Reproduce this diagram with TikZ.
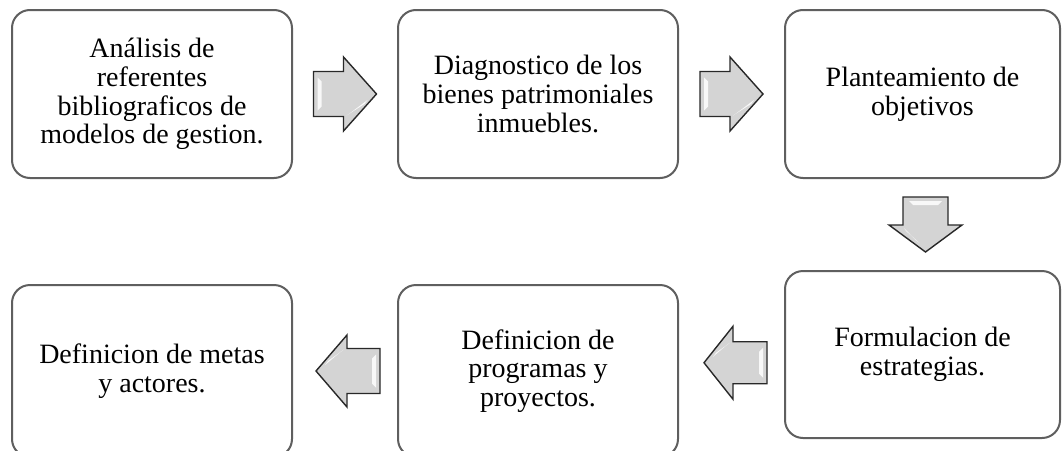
\documentclass[tikz,border=0pt]{standalone}
\usepackage{fontspec}
\setmainfont{Liberation Serif}
\usetikzlibrary{calc}
\definecolor{boxline}{RGB}{95,95,95}
\definecolor{arrfill}{RGB}{212,212,212}
\definecolor{arrline}{RGB}{40,40,40}
\tikzset{
  stepbox/.style={draw=boxline, line width=2pt, rounded corners=18pt, fill=white,
    align=center, inner sep=0pt, font=\fontsize{28}{28.7}\selectfont},
  blockarr/.style={draw=arrline, fill=arrfill, line width=1.4pt, line join=miter},
  glint/.style={fill=white, draw=none, opacity=0.85}
}
% #1 centre, #2 rotation, #3 total length, #4 head length, #5 head half width, #6 shaft half width
\newcommand\blockarrow[6]{%
  \begin{scope}[shift={(#1)}, rotate=#2]
    \path[blockarr] (-#3/2,-#6) -- (#3/2-#4,-#6) -- (#3/2-#4,-#5) -- (#3/2,0)
      -- (#3/2-#4,#5) -- (#3/2-#4,#6) -- (-#3/2,#6) -- cycle;
    \path[glint] (-#3/2+4,-#6+6) -- (-#3/2+8,-#6+10) -- (-#3/2+8,#6-10) -- (-#3/2+4,#6-6) -- cycle;
    \path[glint] (#3/2-#4+6,#6-3) -- (#3/2-9,6) -- (#3/2-12,10) -- (#3/2-#4+3,#6-1) -- cycle;
  \end{scope}}
\begin{document}
\begin{tikzpicture}[x=1pt,y=-1pt]
  \useasboundingbox (0,0) rectangle (1062,450);
  \clip (0,0) rectangle (1062,450);
  % top row
  \node[stepbox, minimum width=280pt, minimum height=168pt] (b1) at (152,94)
    {Análisis de\\referentes\\bibliograficos de\\modelos de gestion.};
  \node[stepbox, minimum width=280pt, minimum height=168pt] (b2) at (538,94)
    {Diagnostico de los\\bienes patrimoniales\\inmuebles.};
  \node[stepbox, minimum width=275pt, minimum height=168pt] (b3) at (922.5,94)
    {Planteamiento de\\objetivos};
  % bottom row
  \node[stepbox, minimum width=275pt, minimum height=167pt] (b4) at (922.5,354.5)
    {Formulacion de\\estrategias.};
  \node[stepbox, minimum width=280pt, minimum height=172pt] (b5) at (538,371)
    {Definicion de\\programas y\\proyectos.};
  \node[stepbox, minimum width=280pt, minimum height=172pt] (b6) at (152,371)
    {Definicion de metas\\y actores.};
  % block arrows between the steps
  \coordinate (a1) at ($(b1.east)!0.5!(b2.west)$);
  \coordinate (a2) at ($(b2.east)!0.5!(b3.west)$);
  \coordinate (a3) at ($(b3.south)!0.5!(b4.north)+(3,0)$);
  \coordinate (a4) at ($(b4.west)!0.5!(b5.east)+(4,0)$);
  \coordinate (a5) at ($(b5.west)!0.5!(b6.east)+(3,0)$);
  \blockarrow{a1}{0}{63}{33}{37}{22.5}
  \blockarrow{a2}{0}{63}{33}{37}{22.5}
  \blockarrow{a3}{-90}{55}{27}{36.5}{22.5}
  \blockarrow{a4}{180}{63}{29}{36.5}{21}
  \blockarrow{a5}{180}{64}{31}{36}{22.5}
\end{tikzpicture}
\end{document}
